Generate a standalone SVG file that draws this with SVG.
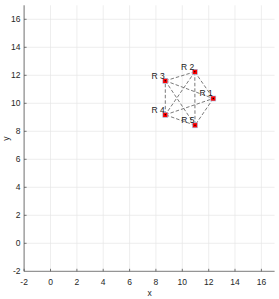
<svg xmlns="http://www.w3.org/2000/svg" width="279" height="299" viewBox="0 0 279 299">
<style>
.grid{stroke:#e6e6e6;stroke-width:0.7;fill:none}
.axis{stroke:#404040;stroke-width:0.7;fill:none}
.tick{font-family:"Liberation Sans",Arial,sans-serif;font-size:8.5px;fill:#262626}
.edge{stroke:#7a7a7a;stroke-width:1;stroke-dasharray:3.5 2;fill:none}
.mk{fill:#ff0000;stroke:#9ec3e8;stroke-width:0.6}
.dot{fill:#000000}
.lbl{font-family:"Liberation Sans",Arial,sans-serif;font-size:8.5px;fill:#1a1a1a;text-anchor:end}
</style>
<rect width="279" height="299" fill="#ffffff"/>
<g id="grid">
<path class="grid" d="M24.1 5.3V271.3M50.5 5.3V271.3M76.9 5.3V271.3M103.2 5.3V271.3M129.6 5.3V271.3M155.9 5.3V271.3M182.3 5.3V271.3M208.7 5.3V271.3M235 5.3V271.3M261.4 5.3V271.3"/>
<path class="grid" d="M24.1 243.3H274.6M24.1 215.3H274.6M24.1 187.3H274.6M24.1 159.3H274.6M24.1 131.3H274.6M24.1 103.3H274.6M24.1 75.3H274.6M24.1 47.3H274.6M24.1 19.3H274.6"/>
</g>
<g id="axes">
<path class="axis" d="M24.1 5.3V271.3H274.6"/>
<path class="axis" d="M24.1 271.3v-2.5M50.5 271.3v-2.5M76.9 271.3v-2.5M103.2 271.3v-2.5M129.6 271.3v-2.5M155.9 271.3v-2.5M182.3 271.3v-2.5M208.7 271.3v-2.5M235 271.3v-2.5M261.4 271.3v-2.5"/>
<path class="axis" d="M24.1 243.3h2.5M24.1 215.3h2.5M24.1 187.3h2.5M24.1 159.3h2.5M24.1 131.3h2.5M24.1 103.3h2.5M24.1 75.3h2.5M24.1 47.3h2.5M24.1 19.3h2.5"/>
<g class="tick" text-anchor="middle">
<text x="24.1" y="285">-2</text><text x="50.5" y="285">0</text><text x="76.9" y="285">2</text><text x="103.2" y="285">4</text><text x="129.6" y="285">6</text><text x="155.9" y="285">8</text><text x="182.3" y="285">10</text><text x="208.7" y="285">12</text><text x="235" y="285">14</text><text x="261.4" y="285">16</text>
</g>
<g class="tick" text-anchor="end">
<text x="20.5" y="274.4">-2</text><text x="20.5" y="246.4">0</text><text x="20.5" y="218.4">2</text><text x="20.5" y="190.4">4</text><text x="20.5" y="162.4">6</text><text x="20.5" y="134.4">8</text><text x="20.5" y="106.4">10</text><text x="20.5" y="78.4">12</text><text x="20.5" y="50.4">14</text><text x="20.5" y="22.4">16</text>
</g>
<text class="tick" x="149.5" y="296" text-anchor="middle" font-size="9.5">x</text>
<text class="tick" x="0" y="0" text-anchor="middle" font-size="9.5" transform="translate(9 138.5) rotate(-90)">y</text>
</g>
<g id="connectors">
<line class="edge" x1="165.3" y1="80.8" x2="194.8" y2="71.8"/>
<line class="edge" x1="194.8" y1="71.8" x2="213.3" y2="98.5"/>
<line class="edge" x1="213.3" y1="98.5" x2="195" y2="125.3"/>
<line class="edge" x1="195" y1="125.3" x2="165.3" y2="114.8"/>
<line class="edge" x1="165.3" y1="114.8" x2="165.3" y2="80.8"/>
<line class="edge" x1="165.3" y1="80.8" x2="213.3" y2="98.5"/>
<line class="edge" x1="194.8" y1="71.8" x2="195" y2="125.3"/>
<line class="edge" x1="194.8" y1="71.8" x2="165.3" y2="114.8"/>
<line class="edge" x1="165.3" y1="114.8" x2="213.3" y2="98.5"/>
<line class="edge" x1="165.3" y1="80.8" x2="195" y2="125.3"/>
</g>
<g id="R1"><rect class="mk" x="210.8" y="96" width="5" height="5"/><circle class="dot" cx="213.3" cy="98.5" r="0.7"/><text class="lbl" x="212.8" y="96.3">R 1</text></g>
<g id="R2"><rect class="mk" x="192.3" y="69.3" width="5" height="5"/><circle class="dot" cx="194.8" cy="71.8" r="0.7"/><text class="lbl" x="194.3" y="69.6">R 2</text></g>
<g id="R3"><rect class="mk" x="162.8" y="78.3" width="5" height="5"/><circle class="dot" cx="165.3" cy="80.8" r="0.7"/><text class="lbl" x="164.8" y="78.6">R 3</text></g>
<g id="R4"><rect class="mk" x="162.8" y="112.3" width="5" height="5"/><circle class="dot" cx="165.3" cy="114.8" r="0.7"/><text class="lbl" x="164.8" y="112.6">R 4</text></g>
<g id="R5"><rect class="mk" x="192.5" y="122.8" width="5" height="5"/><circle class="dot" cx="195" cy="125.3" r="0.7"/><text class="lbl" x="194.5" y="123.1">R 5</text></g>
</svg>
